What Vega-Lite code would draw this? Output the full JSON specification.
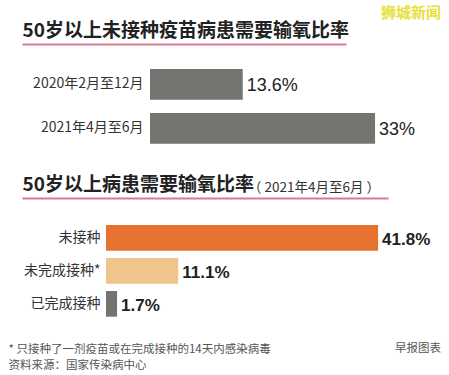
{
  "$schema": "https://vega.github.io/schema/vega-lite/v6.json",
  "background": "white",
  "padding": {"left": 8, "top": 6, "right": 0, "bottom": 2},
  "config": {
    "view": {"stroke": null},
    "font": "Noto Sans CJK SC",
    "title": {"font": "Noto Sans CJK SC"}
  },
  "spacing": 24,
  "title": {"text": "早报图表", "orient": "bottom", "anchor": "end", "fontSize": 11.5, "fontWeight": "normal", "color": "#555555", "offset": -28},
  "vconcat": [
    {
      "width": 419,
      "height": 107,
      "title": {"text": "狮城新闻", "anchor": "end", "fontSize": 15, "fontWeight": "bold", "color": "#e6e23a", "offset": 0},
      "data": {"values": [
        {"period": "2020年2月至12月", "rate": 13.6, "label": "13.6%"},
        {"period": "2021年4月至6月", "rate": 33, "label": "33%"}
      ]},
      "encoding": {
        "y": {"field": "period", "type": "nominal", "sort": null,
          "scale": {"paddingInner": 0.3, "paddingOuter": 0.366, "align": 0.776},
          "axis": {"orient": "left", "offset": -128, "domain": false, "ticks": false, "labelPadding": 7, "labelFontSize": 14, "labelColor": "#333333", "title": null}},
        "x": {"field": "rate", "type": "quantitative",
          "scale": {"domain": [-18.77, 28.74], "range": [0, 324], "nice": false, "zero": false},
          "axis": {"orient": "top", "domain": true, "domainColor": "#d77a95", "domainWidth": 2, "ticks": false, "labels": false, "grid": false,
            "title": "50岁以上未接种疫苗病患需要输氧比率", "titleFontSize": 19, "titleFontWeight": "bold", "titleColor": "#222222", "titleAnchor": "start", "titleAlign": "left", "titlePadding": 4}}
      },
      "layer": [
        {"mark": {"type": "bar", "color": "#767470"}, "encoding": {"x2": {"datum": 0}}},
        {"mark": {"type": "text", "align": "left", "baseline": "middle", "dx": 4, "dy": 2, "fontSize": 18, "font": "Liberation Sans", "fontWeight": "normal", "color": "#222222"},
          "encoding": {"text": {"field": "label"}}}
      ]
    },
    {
      "width": 419,
      "height": 127,
      "title": {"text": "（ 2021年4月至6月 ）", "anchor": "start", "fontSize": 13.5, "fontWeight": "normal", "color": "#333333", "dx": 240, "offset": -19},
      "data": {"values": [
        {"group": "未接种", "rate": 41.8, "label": "41.8%", "status": "a"},
        {"group": "未完成接种*", "rate": 11.1, "label": "11.1%", "status": "b"},
        {"group": "已完成接种", "rate": 1.7, "label": "1.7%", "status": "c"}
      ]},
      "encoding": {
        "y": {"field": "group", "type": "nominal", "sort": null,
          "scale": {"paddingInner": 0.22, "paddingOuter": 0.535, "align": 0.765},
          "axis": {"orient": "left", "offset": -84, "domain": false, "ticks": false, "labelPadding": 6, "labelFontSize": 14, "labelColor": "#333333", "title": null}}
      },
      "layer": [
        {"mark": {"type": "bar"},
          "encoding": {
            "x": {"field": "rate", "type": "quantitative",
              "scale": {"domain": [-12.9, 43.32], "range": [0, 366], "nice": false, "zero": false},
              "axis": {"orient": "top", "domain": true, "domainColor": "#d77a95", "domainWidth": 2, "ticks": false, "labels": false, "grid": false,
                "title": "50岁以上病患需要输氧比率", "titleFontSize": 19, "titleFontWeight": "bold", "titleColor": "#222222", "titleAnchor": "start", "titleAlign": "left", "titlePadding": 4}},
            "x2": {"datum": 0},
            "color": {"field": "status", "type": "nominal", "legend": null,
              "scale": {"domain": ["a", "b", "c"], "range": ["#e5732f", "#f0c58c", "#737373"]}}
          }},
        {"mark": {"type": "text", "align": "left", "baseline": "middle", "dx": 4, "dy": 2, "fontSize": 17, "font": "Liberation Sans", "fontWeight": "bold", "color": "#222222"},
          "encoding": {
            "x": {"field": "rate", "type": "quantitative",
              "axis": {"orient": "bottom", "domain": false, "ticks": false, "labels": false, "grid": false,
                "title": ["* 只接种了一剂疫苗或在完成接种的14天内感染病毒", "资料来源：国家传染病中心"], "titleFontSize": 11.5, "titleFontWeight": "normal", "titleColor": "#555555", "titleAnchor": "start", "titleAlign": "left", "titleX": -14, "titlePadding": 18, "titleLineHeight": 16}},
            "text": {"field": "label"}
          }}
      ],
      "resolve": {"axis": {"x": "independent"}}
    }
  ]
}
